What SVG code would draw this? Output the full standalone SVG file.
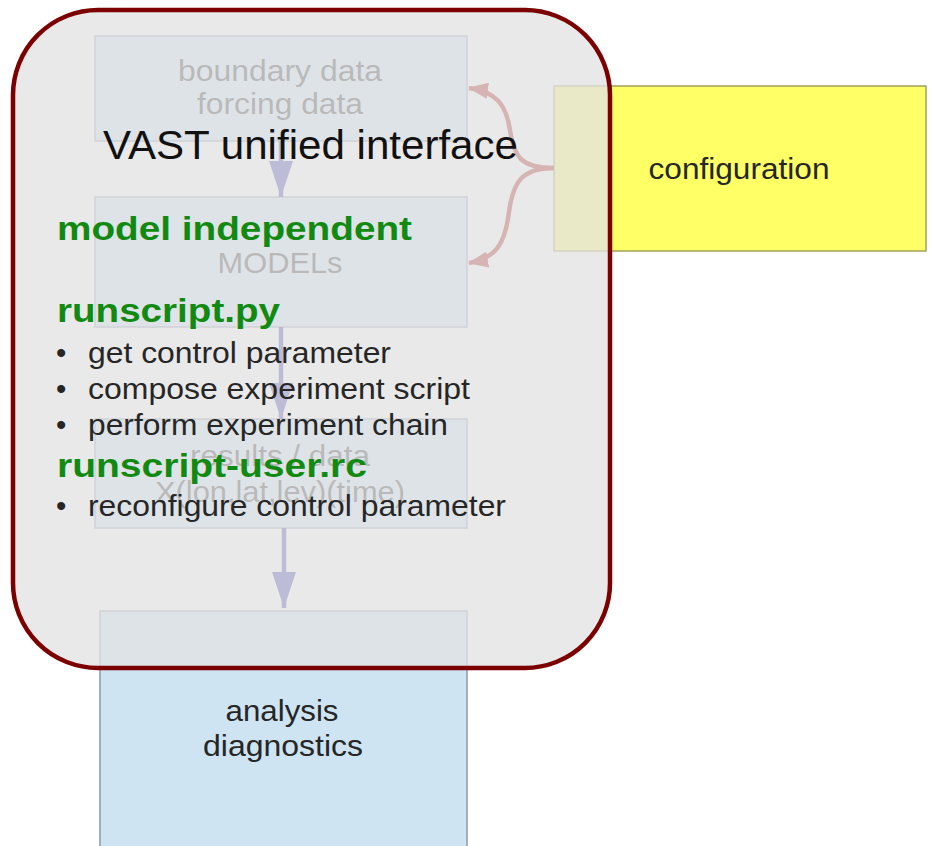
<svg xmlns="http://www.w3.org/2000/svg" width="932" height="846" viewBox="0 0 932 846">
  <style>
    .box { fill: #cee4f3; stroke: #8a9aab; stroke-width: 1.5; }
    .cfg { fill: #ffff66; stroke: #a0a060; stroke-width: 1.5; }
    .t { font-family: "Liberation Sans", Arial, sans-serif; font-size: 29.5px; fill: #262626; }
    .mid { text-anchor: middle; }
    .green { font-family: "Liberation Sans", Arial, sans-serif; font-size: 34px; font-weight: bold; fill: #128a12; }
    .head { font-family: "Liberation Sans", Arial, sans-serif; font-size: 40px; fill: #111111; }
    .flow { fill: none; stroke: #3535aa; stroke-width: 4.5; }
    .cfgline { fill: none; stroke: #a81010; stroke-width: 4.5; }
  </style>
  <defs>
    <marker id="arrBlue" viewBox="0 0 36 24" refX="36" refY="12" markerWidth="36" markerHeight="24" markerUnits="userSpaceOnUse" orient="auto">
      <path d="M0,0 L36,12 L0,24 Z" fill="#3535aa"/>
    </marker>
    <marker id="arrRed" viewBox="0 0 20 16" refX="19" refY="8" markerWidth="20" markerHeight="16" markerUnits="userSpaceOnUse" orient="auto">
      <path d="M0,0 L20,8 L0,16 Z" fill="#a81010"/>
    </marker>
  </defs>

  <rect width="932" height="846" fill="#ffffff"/>

  <g id="box-boundary">
    <rect class="box" x="95" y="36" width="372" height="105"/>
    <text class="t mid" x="280" y="81" textLength="204" lengthAdjust="spacingAndGlyphs">boundary data</text>
    <text class="t mid" x="280" y="114" textLength="166" lengthAdjust="spacingAndGlyphs">forcing data</text>
  </g>

  <g id="box-models">
    <rect class="box" x="95" y="197" width="372" height="130"/>
    <text class="t mid" x="280" y="273" textLength="125" lengthAdjust="spacingAndGlyphs">MODELs</text>
  </g>

  <g id="box-results">
    <rect class="box" x="95" y="419" width="372" height="109"/>
    <text class="t mid" x="280" y="466" textLength="180" lengthAdjust="spacingAndGlyphs">results / data</text>
    <text class="t mid" x="280" y="502" textLength="250" lengthAdjust="spacingAndGlyphs">X(lon,lat,lev)(time)</text>
  </g>

  <g id="box-analysis">
    <rect class="box" x="100" y="611" width="367" height="250"/>
    <text class="t mid" x="282" y="721" textLength="113" lengthAdjust="spacingAndGlyphs">analysis</text>
    <text class="t mid" x="283" y="756" textLength="160" lengthAdjust="spacingAndGlyphs">diagnostics</text>
  </g>

  <g id="box-configuration">
    <rect class="cfg" x="554" y="86" width="372" height="165"/>
    <text class="t mid" x="739" y="179" textLength="181" lengthAdjust="spacingAndGlyphs">configuration</text>
  </g>

  <g id="connectors">
    <line class="flow" x1="281" y1="141" x2="281" y2="197" marker-end="url(#arrBlue)"/>
    <line class="flow" x1="281" y1="327" x2="281" y2="419" marker-end="url(#arrBlue)"/>
    <line class="flow" x1="284" y1="528" x2="284" y2="608" marker-end="url(#arrBlue)"/>
    <path class="cfgline" d="M554,168 C522,168 514,158 510,130 C506,104 496,92 469,88" marker-end="url(#arrRed)"/>
    <path class="cfgline" d="M554,168 C522,168 513,182 509,212 C505,244 496,258 469,263" marker-end="url(#arrRed)"/>
  </g>

  <g id="vast-interface">
    <rect x="13" y="10" width="597" height="658" rx="85" ry="85" fill="#e3e3e3" fill-opacity="0.78" stroke="#7d0000" stroke-width="4.5"/>
    <text class="head" x="103" y="159" textLength="415" lengthAdjust="spacingAndGlyphs">VAST unified interface</text>
    <text class="green" x="57" y="240" textLength="355" lengthAdjust="spacingAndGlyphs">model independent</text>
    <text class="green" x="57" y="322" textLength="223" lengthAdjust="spacingAndGlyphs">runscript.py</text>
    <text class="t" x="56" y="363">•</text>
    <text class="t" x="88" y="363" textLength="303" lengthAdjust="spacingAndGlyphs">get control parameter</text>
    <text class="t" x="56" y="399">•</text>
    <text class="t" x="88" y="399" textLength="382" lengthAdjust="spacingAndGlyphs">compose experiment script</text>
    <text class="t" x="56" y="435">•</text>
    <text class="t" x="88" y="435" textLength="360" lengthAdjust="spacingAndGlyphs">perform experiment chain</text>
    <text class="green" x="57" y="477" textLength="310" lengthAdjust="spacingAndGlyphs">runscript-user.rc</text>
    <text class="t" x="56" y="516">•</text>
    <text class="t" x="88" y="516" textLength="418" lengthAdjust="spacingAndGlyphs">reconfigure control parameter</text>
  </g>
</svg>
